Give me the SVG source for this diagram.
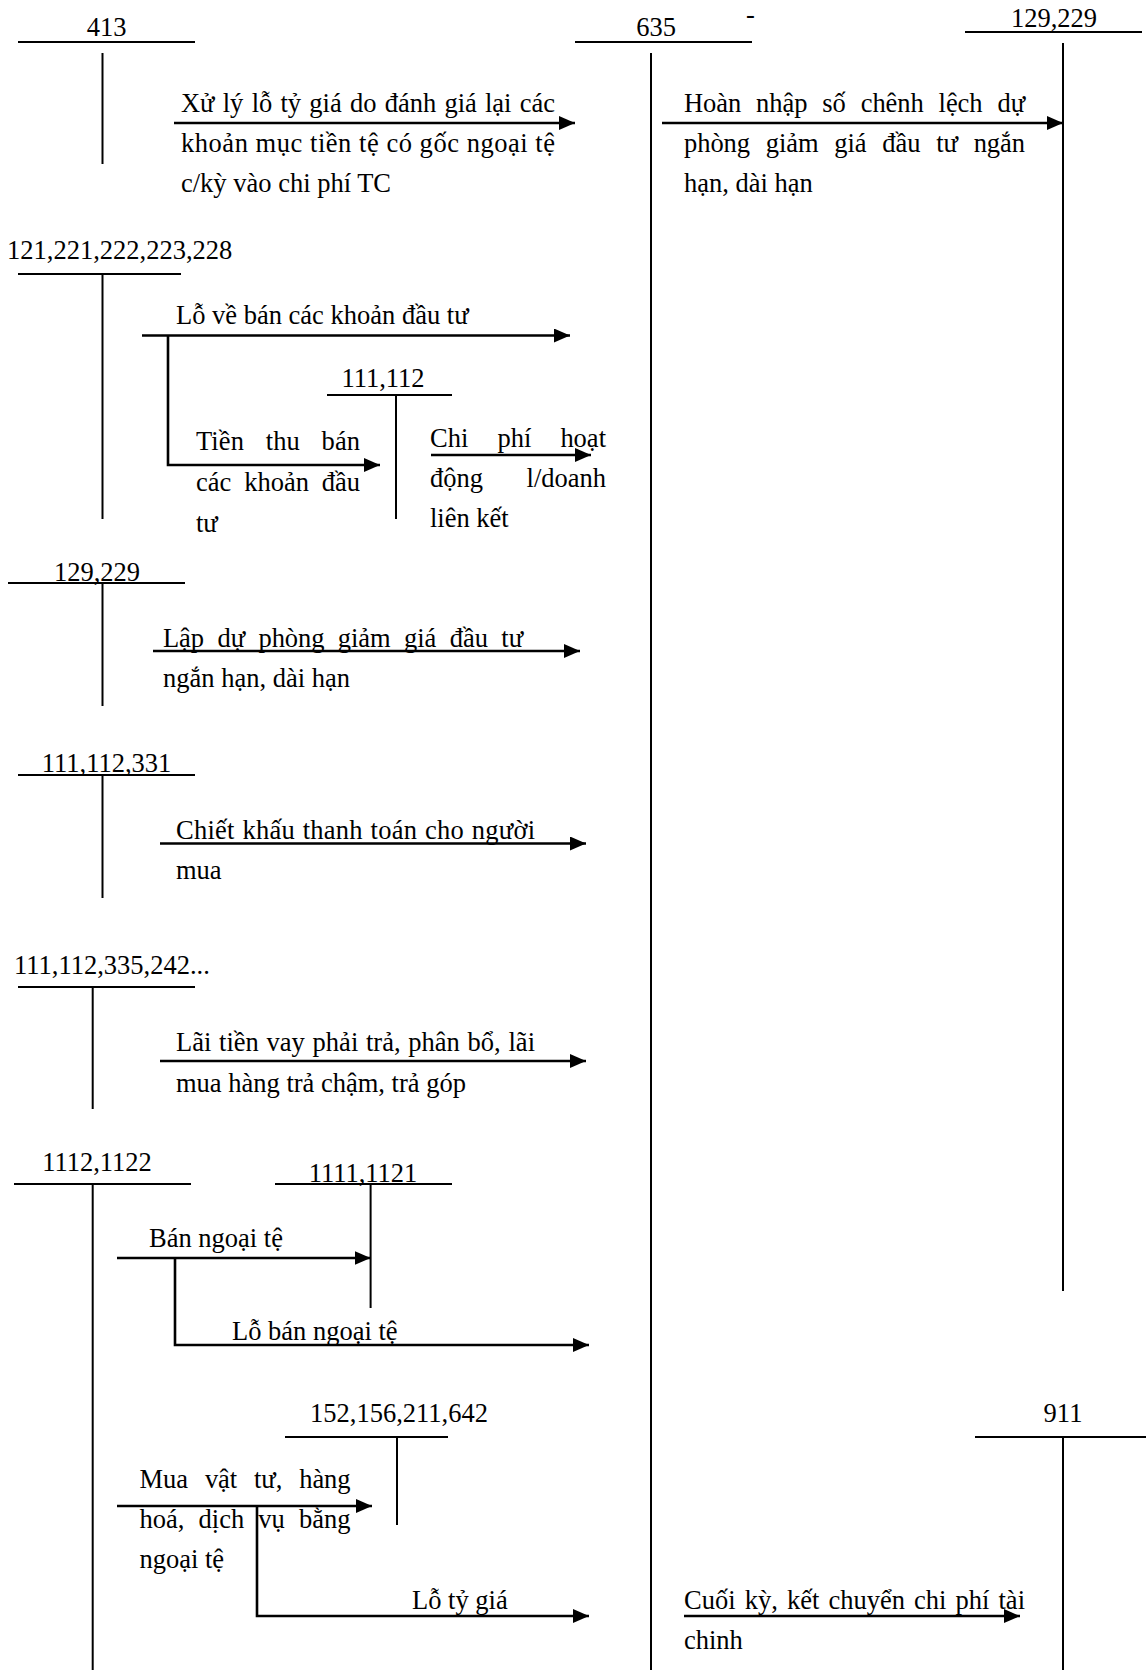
<svg xmlns="http://www.w3.org/2000/svg" width="1146" height="1670" viewBox="0 0 1146 1670">
<style>
text{font-family:"Liberation Serif","Times New Roman",serif;font-size:26.5px;fill:#000}
.c{text-anchor:middle}
.t line{stroke:#000;stroke-width:2}
.a{stroke:#000;stroke-width:2.6;fill:none;marker-end:url(#ah)}
</style>
<defs>
<marker id="ah" markerUnits="userSpaceOnUse" markerWidth="18" markerHeight="16" refX="16" refY="7" orient="auto"><path d="M0,0 L16,7 L0,14 z" fill="#000"/></marker>
</defs>
<rect width="1146" height="1670" fill="#fff"/>
<g id="acc413" class="t"><text class="c" x="106.5" y="36">413</text><line x1="18" y1="42" x2="195" y2="42"/><line x1="102.5" y1="53" x2="102.5" y2="164"/></g>
<g id="acc635" class="t"><text class="c" x="656" y="36">635</text><text x="746" y="23">-</text><line x1="575" y1="42" x2="752" y2="42"/><line x1="651" y1="53" x2="651" y2="1670"/></g>
<g id="acc129top" class="t"><text class="c" x="1054" y="27">129,229</text><line x1="965" y1="32" x2="1142" y2="32"/><line x1="1063" y1="43" x2="1063" y2="1291"/></g>
<g id="acc121" class="t"><text x="7" y="259">121,221,222,223,228</text><line x1="18" y1="274" x2="181" y2="274"/><line x1="102.5" y1="274" x2="102.5" y2="519"/></g>
<g id="acc111a" class="t"><text class="c" x="383" y="387">111,112</text><line x1="327" y1="395" x2="452" y2="395"/><line x1="396" y1="395" x2="396" y2="519"/></g>
<g id="acc129" class="t"><text class="c" x="97" y="581">129,229</text><line x1="8" y1="583" x2="185" y2="583"/><line x1="102.5" y1="583" x2="102.5" y2="706"/></g>
<g id="acc111b" class="t"><text class="c" x="106.5" y="772">111,112,331</text><line x1="18" y1="775" x2="195" y2="775"/><line x1="102.5" y1="775" x2="102.5" y2="898"/></g>
<g id="acc111c" class="t"><text x="14" y="974">111,112,335,242...</text><line x1="18" y1="987" x2="195" y2="987"/><line x1="92.7" y1="987" x2="92.7" y2="1109"/></g>
<g id="acc1112" class="t"><text class="c" x="97" y="1171">1112,1122</text><line x1="14" y1="1184" x2="191" y2="1184"/><line x1="92.7" y1="1184" x2="92.7" y2="1670"/></g>
<g id="acc1111" class="t"><text class="c" x="363" y="1182">1111,1121</text><line x1="275" y1="1184" x2="452" y2="1184"/><line x1="370.6" y1="1184" x2="370.6" y2="1308"/></g>
<g id="acc152" class="t"><text class="c" x="399" y="1422">152,156,211,642</text><line x1="285" y1="1437" x2="448" y2="1437"/><line x1="397" y1="1437" x2="397" y2="1525"/></g>
<g id="acc911" class="t"><text class="c" x="1063" y="1422">911</text><line x1="975" y1="1437" x2="1146" y2="1437"/><line x1="1063" y1="1437" x2="1063" y2="1670"/></g>
<g id="connectors">
<path class="a" d="M174,123 H575"/>
<path class="a" d="M662,123 H1063"/>
<path class="a" d="M142,335.5 H570"/>
<path class="a" d="M168,335.5 V465 H380"/>
<path class="a" d="M431,455 H591"/>
<path class="a" d="M153,651 H580"/>
<path class="a" d="M160,843.5 H586"/>
<path class="a" d="M160,1061 H586"/>
<path class="a" d="M117,1258 H370.6"/>
<path class="a" d="M175,1258 V1345 H589"/>
<path class="a" d="M117,1506 H372"/>
<path class="a" d="M257,1506 V1616 H589"/>
<path class="a" d="M684,1616 H1020"/>
</g>
<g id="labels">
<text x="181" y="112" word-spacing="1.7" textLength="374" lengthAdjust="spacing">Xử lý lỗ tỷ giá do đánh giá lại các</text>
<text x="181" y="152" textLength="374" lengthAdjust="spacing">khoản mục tiền tệ có gốc ngoại tệ</text>
<text x="181" y="192">c/kỳ vào chi phí TC</text>
<text x="684" y="112" word-spacing="8.3" textLength="341" lengthAdjust="spacing">Hoàn nhập số chênh lệch dự</text>
<text x="684" y="152" word-spacing="9.2" textLength="341" lengthAdjust="spacing">phòng giảm giá đầu tư ngắn</text>
<text x="684" y="192">hạn, dài hạn</text>
<text x="176" y="324">Lỗ về bán các khoản đầu tư</text>
<text x="196" y="450" word-spacing="15" textLength="164" lengthAdjust="spacing">Tiền thu bán</text>
<text x="196" y="491" word-spacing="6.2" textLength="164" lengthAdjust="spacing">các khoản đầu</text>
<text x="196" y="532">tư</text>
<text x="430" y="447" word-spacing="22.5" textLength="176" lengthAdjust="spacing">Chi phí hoạt</text>
<text x="430" y="487" word-spacing="37" textLength="176" lengthAdjust="spacing">động l/doanh</text>
<text x="430" y="527">liên kết</text>
<text x="163" y="647" word-spacing="7" textLength="360" lengthAdjust="spacing">Lập dự phòng giảm giá đầu tư</text>
<text x="163" y="687">ngắn hạn, dài hạn</text>
<text x="176" y="839" word-spacing="1" textLength="359" lengthAdjust="spacing">Chiết khấu thanh toán cho người</text>
<text x="176" y="879">mua</text>
<text x="176" y="1051" word-spacing="1.1" textLength="359" lengthAdjust="spacing">Lãi tiền vay phải trả, phân bổ, lãi</text>
<text x="176" y="1092">mua hàng trả chậm, trả góp</text>
<text x="149" y="1247">Bán ngoại tệ</text>
<text x="232" y="1340">Lỗ bán ngoại tệ</text>
<text x="139.5" y="1488" word-spacing="10.5" textLength="211" lengthAdjust="spacing">Mua vật tư, hàng</text>
<text x="139.5" y="1528" word-spacing="7.5" textLength="211" lengthAdjust="spacing">hoá, dịch vụ bằng</text>
<text x="139.5" y="1568">ngoại tệ</text>
<text x="412" y="1609">Lỗ tỷ giá</text>
<text x="684" y="1609" word-spacing="2.5" textLength="341" lengthAdjust="spacing">Cuối kỳ, kết chuyển chi phí tài</text>
<text x="684" y="1649">chinh</text>
</g>
</svg>
